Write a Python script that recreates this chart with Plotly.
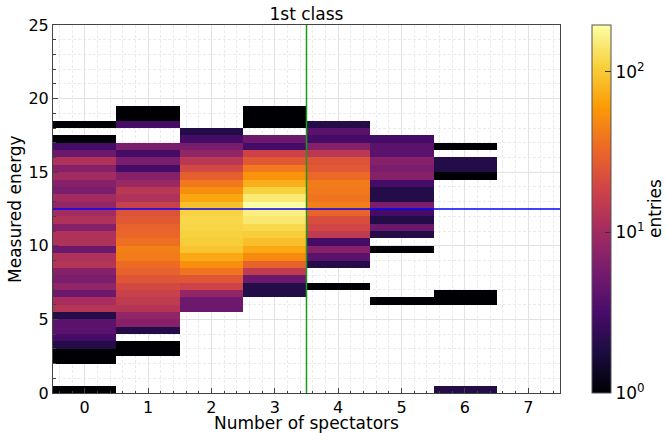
import numpy as np
import plotly.graph_objects as go

# --- histogram data: entries per 0.5-wide energy bin, one list per spectator count ---
energy_bin_width = 0.5
energy_max = 25.0
spectators = [0, 1, 2, 3, 4, 5, 6]

# each list starts at the given lower energy edge and runs upward bin by bin
n0_from = 0.0
n0_counts = [1, 0, 0, 0, 1, 1, 2, 3, 4, 4, 2, 13, 11, 5, 8, 6, 7, 13, 12, 5,
             12, 12, 7, 12, 10, 8, 10, 6, 7, 10, 7, 12, 5, 3, 1, 0, 1]
n1_from = 2.5
n1_counts = [1, 1, 0, 2, 7, 8, 13, 15, 17, 20, 25, 30, 34, 42, 44, 36, 32, 30,
             26, 24, 17, 12, 14, 9, 7, 3, 6, 3, 6, 0, 0, 3, 1, 1]
n2_from = 5.5
n2_counts = [5, 5, 8, 18, 25, 38, 52, 70, 95, 105, 110, 115, 118, 112, 90, 68,
             52, 40, 29, 20, 14, 8, 6, 3, 2]
n3_from = 6.5
n3_counts = [2, 2, 5, 15, 30, 50, 70, 90, 105, 120, 145, 160, 195, 150, 110, 75,
             55, 40, 26, 18, 3, 5, 0, 1, 1, 1]
n4_from = 7.0
n4_counts = [1, 0, 0, 2, 4, 7, 3, 15, 19, 22, 31, 44, 38, 40, 42, 33, 26, 24,
             14, 7, 3, 4, 2]
n5_from = 6.0
n5_counts = [1, 0, 0, 0, 0, 0, 0, 1, 0, 2, 5, 2, 3, 6, 2, 2, 3, 7, 6, 7, 4, 4, 3]
n6_from = 0.0
n6_counts = [2, 0, 0, 0, 0, 0, 0, 0, 0, 0, 0, 0, 1, 1, 0, 0, 0, 0, 0, 0, 0, 0,
             0, 0, 0, 0, 0, 0, 0, 1, 2, 2, 0, 1]

count_max = 196          # top of the colour scale
spectator_cut = 3.5      # vertical selection line
energy_cut = 12.5        # horizontal selection line

columns = [(n0_from, n0_counts), (n1_from, n1_counts), (n2_from, n2_counts),
           (n3_from, n3_counts), (n4_from, n4_counts), (n5_from, n5_counts),
           (n6_from, n6_counts)]

n_ebins = int(round(energy_max / energy_bin_width))
counts = np.zeros((n_ebins, len(spectators)))
for j, (start, vals) in enumerate(columns):
    k0 = int(round(start / energy_bin_width))
    counts[k0:k0 + len(vals), j] = vals

# log colour scale: empty bins are left blank
z = np.where(counts > 0, np.log10(np.where(counts > 0, counts, 1)), np.nan)
zmax = np.log10(count_max)

y_edges = np.arange(n_ebins + 1) * energy_bin_width
x_edges = np.arange(len(spectators) + 1) - 0.5

FONT = "DejaVu Sans"
PLOT_W = 507  # plot-area width in px, used to place colour-bar decorations

fig = go.Figure()
fig.add_trace(go.Heatmap(
    x=x_edges, y=y_edges, z=z,
    colorscale="Inferno", zmin=0, zmax=zmax,
    hoverongaps=False,
    colorbar=dict(
        x=1.063, xanchor="left", xref="paper",
        y=0.5, yanchor="middle", len=1.0, lenmode="fraction", ypad=0, xpad=0,
        thickness=19, outlinewidth=1, outlinecolor="#555555",
        tickvals=[0, 1, 2],
        ticktext=["10<sup>0</sup>", "10<sup>1</sup>", "10<sup>2</sup>"],
        ticks="inside", ticklen=6, tickcolor="#333333",
        tickfont=dict(family=FONT, size=17, color="black"),
    ),
))

# minor ticks on the colour bar
bar_right = 1.063 + 19 / PLOT_W
for decade in (1, 10):
    for m in range(2, 10):
        v = decade * m
        yy = np.log10(v) / zmax
        fig.add_shape(type="line", xref="paper", yref="paper",
                      x0=bar_right, x1=bar_right - 3.5 / PLOT_W, y0=yy, y1=yy,
                      line=dict(color="#333333", width=1))

# selection lines
fig.add_shape(type="line", xref="x", yref="paper", x0=spectator_cut, x1=spectator_cut,
              y0=0, y1=1, line=dict(color="#1a9a1a", width=1.5), layer="above")
fig.add_shape(type="line", xref="paper", yref="y", x0=0, x1=1, y0=energy_cut,
              y1=energy_cut, line=dict(color="#0000ff", width=1.5), layer="above")

axis_common = dict(
    showline=True, linecolor="#444444", linewidth=1, mirror=True,
    ticks="inside", ticklen=5, tickcolor="#444444", tickwidth=1,
    showgrid=True, gridcolor="#e2e2e2", gridwidth=1,
    zeroline=False,
    tickfont=dict(family=FONT, size=16, color="black"),
)
minor_common = dict(ticks="inside", ticklen=2.5, tickcolor="#444444",
                    showgrid=True, gridcolor="#ebebeb", griddash="3px,2px")

fig.update_layout(
    width=666, height=433,
    margin=dict(l=53, r=106, t=25, b=40, autoexpand=False),
    paper_bgcolor="white", plot_bgcolor="white",
    font=dict(family=FONT, color="black"),
    xaxis=dict(range=[-0.5, 7.5], tickvals=list(range(8)),
               minor=dict(dtick=0.2, **minor_common), **axis_common),
    yaxis=dict(range=[0, 25], tickvals=[0, 5, 10, 15, 20, 25],
               minor=dict(dtick=1, **minor_common), **axis_common),
    title=dict(text="1st class", x=0.5, xref="paper", y=1 - 14 / 433,
               yref="container", xanchor="center", yanchor="middle",
               font=dict(family=FONT, size=17, color="black")),
    annotations=[
        dict(text="Number of spectators", xref="paper", yref="paper", x=0.5, y=0,
             yshift=-30, xanchor="center", yanchor="middle", showarrow=False,
             font=dict(family=FONT, size=17, color="black")),
        dict(text="Measured energy", xref="paper", yref="paper", x=0, y=0.5,
             xshift=-38, xanchor="center", yanchor="middle", textangle=-90,
             showarrow=False, font=dict(family=FONT, size=17, color="black")),
        dict(text="entries", xref="paper", yref="paper", x=1, y=0.5,
             xshift=95, xanchor="center", yanchor="middle", textangle=-90,
             showarrow=False, font=dict(family=FONT, size=17, color="black")),
    ],
)

fig.write_html("out.html")
